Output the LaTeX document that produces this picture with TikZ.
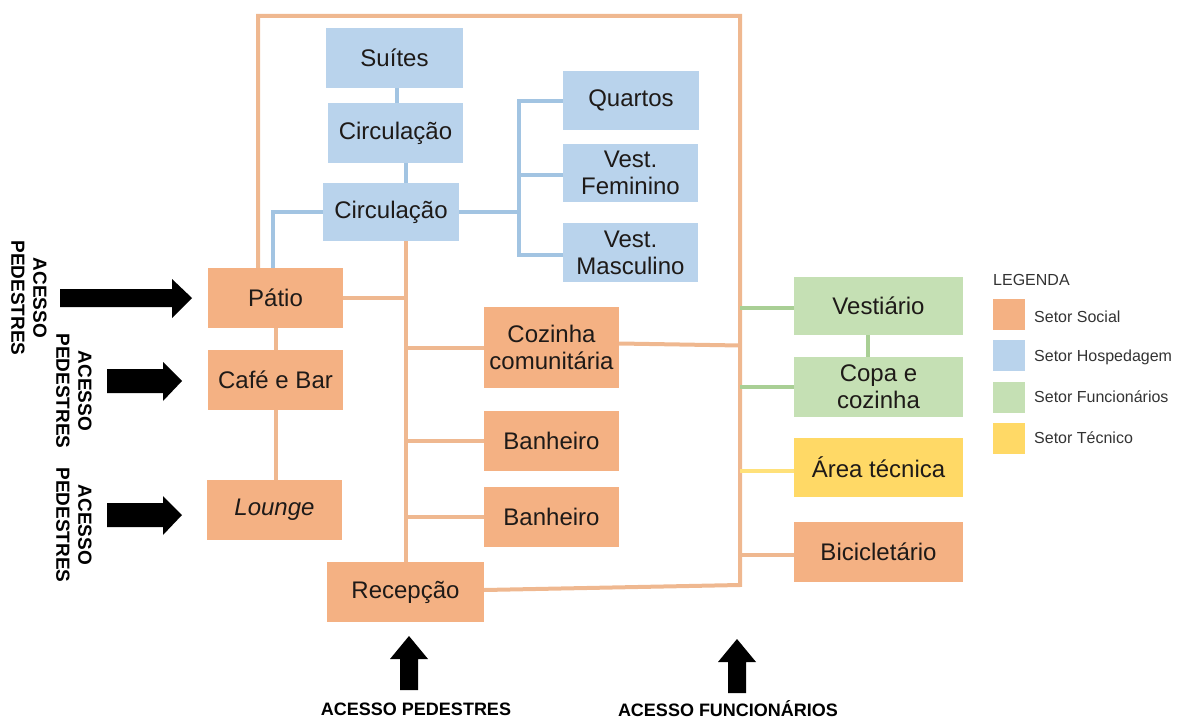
\documentclass[tikz,border=0pt]{standalone}
\usepackage{fontspec}
\setmainfont{Liberation Sans}
\definecolor{social}{HTML}{F4B183}
\definecolor{hosp}{HTML}{B9D3EC}
\definecolor{func}{HTML}{C5E0B4}
\definecolor{tecn}{HTML}{FFD966}
\definecolor{lsocial}{HTML}{EFB890}
\definecolor{lhosp}{HTML}{A2C4E2}
\definecolor{lfunc}{HTML}{A9CF95}
\definecolor{ltecn}{HTML}{FFE17A}
\definecolor{txt}{HTML}{1E1A18}
\definecolor{legtxt}{HTML}{333333}
\begin{document}
\begin{tikzpicture}[x=1pt,y=-1pt,
  box/.style={rectangle, inner sep=0pt, align=center, text=txt, font=\fontsize{24}{27}\selectfont},
  soc/.style={box, fill=social},
  hos/.style={box, fill=hosp},
  fun/.style={box, fill=func},
  tec/.style={box, fill=tecn},
  oline/.style={draw=lsocial, line width=4pt},
  bline/.style={draw=lhosp, line width=4pt},
  gline/.style={draw=lfunc, line width=4pt},
  yline/.style={draw=ltecn, line width=4pt},
  acc/.style={font=\bfseries\fontsize{18}{22}\selectfont, align=center, inner sep=0pt},
  accr/.style={acc, font=\bfseries\fontsize{19}{22}\selectfont, rotate=-90},
  leg/.style={font=\fontsize{16}{19}\selectfont, anchor=west, text=legtxt, inner sep=0pt},
  swatch/.style={rectangle, minimum width=32pt, minimum height=31pt, inner sep=0pt},
  bigarrow/.style={fill=black}
]
\useasboundingbox (0,0) rectangle (1177,719);

% ---------- boxes ----------
\node[hos, minimum width=137pt, minimum height=60pt] (suites) at (394.5,58) {Suítes};
\node[hos, minimum width=135pt, minimum height=60pt] (circA) at (395.5,133) {Circulação};
\node[hos, minimum width=136pt, minimum height=58pt] (circB) at (391,212) {Circulação};
\node[hos, minimum width=136pt, minimum height=59pt] (quartos) at (631,100.5) {Quartos};
\node[hos, minimum width=135pt, minimum height=58pt] (vestf) at (630.5,173) {Vest.\\Feminino};
\node[hos, minimum width=135pt, minimum height=59pt] (vestm) at (630.5,252.5) {Vest.\\Masculino};

\node[soc, minimum width=135pt, minimum height=60pt] (patio) at (275.5,298) {Pátio};
\node[soc, minimum width=135pt, minimum height=60pt] (cafe) at (275.5,380) {Café e Bar};
\node[soc, minimum width=135pt, minimum height=60pt] (lounge) at (274.5,510) {\textit{Lounge}};
\node[soc, minimum width=135pt, minimum height=81pt] (cozinha) at (551.5,347.5) {Cozinha\\comunitária};
\node[soc, minimum width=135pt, minimum height=60pt] (banh1) at (551.5,441) {Banheiro};
\node[soc, minimum width=135pt, minimum height=60pt] (banh2) at (551.5,517) {Banheiro};
\node[soc, minimum width=157pt, minimum height=60pt] (recep) at (405.5,592) {Recepção};

\node[fun, minimum width=169pt, minimum height=58pt] (vestiario) at (878.5,306) {Vestiário};
\node[fun, minimum width=169pt, minimum height=60pt] (copa) at (878.5,387) {Copa e\\cozinha};
\node[tec, minimum width=169pt, minimum height=59pt] (area) at (878.5,467.5) {Área técnica};
\node[soc, minimum width=169pt, minimum height=60pt] (bici) at (878.5,552) {Bicicletário};

% ---------- orange (social) connectors ----------
\coordinate (TL) at (258,16);
\coordinate (TR) at (740,16);
\coordinate (BR) at (740,585);
\draw[oline] (patio.north -| TL) -- (TL) -- (TR) -- (BR) -- ([yshift=2pt]recep.east);
\draw[oline] (circB.south -| recep.north) -- (recep.north);
\draw[oline] (patio.east) -- (patio.east -| recep.north);
\draw[oline] (cozinha.west) -- (cozinha.west -| recep.north);
\draw[oline] (banh1.west) -- (banh1.west -| recep.north);
\draw[oline] (banh2.west) -- (banh2.west -| recep.north);
\draw[oline] ([yshift=4pt]cozinha.east) -- ([yshift=2pt]cozinha.east -| BR);
\draw[oline] ([yshift=-3pt]bici.west) -- ([yshift=-3pt]bici.west -| BR);
\draw[oline] (patio.south) -- (cafe.north);
\draw[oline] (cafe.south) -- (cafe.south |- lounge.north);

% ---------- blue (hospedagem) connectors ----------
\draw[bline] ([xshift=2pt]suites.south) -- ([xshift=2pt]suites.south |- circA.north);
\draw[bline] ([xshift=10pt]circA.south) -- ([xshift=10pt]circA.south |- circB.north);
\draw[bline] (circB.west) -| ([xshift=-2.5pt]patio.north);
\draw[bline] (circB.east) -- ++(60,0) coordinate (bj);
\draw[bline] ([yshift=-1pt]quartos.west) -| (bj);
\draw[bline] ([yshift=-3pt]vestm.west) -| (bj);
\draw[bline] ([yshift=-2pt]vestf.west) -- ([yshift=-2pt]vestf.west -| bj);

% ---------- green / yellow connectors ----------
\draw[gline] ([yshift=-2pt]vestiario.west) -- ([yshift=-2pt]vestiario.west -| BR);
\draw[gline] (copa.west) -- (copa.west -| BR);
\draw[gline] ([xshift=-11pt]vestiario.south) -- ([xshift=-11pt]copa.north);
\draw[yline] ([yshift=-3pt]area.west) -- ([yshift=-3pt]area.west -| BR);

% ---------- access arrows ----------
\fill[bigarrow] (60,289) -- (172,289) -- (172,279) -- (192,298) -- (172,318) -- (172,307) -- (60,307) -- cycle;
\fill[bigarrow] (107,369) -- (163,369) -- (163,362) -- (182,381) -- (163,401) -- (163,393) -- (107,393) -- cycle;
\fill[bigarrow] (107,503) -- (163,503) -- (163,496) -- (182,515) -- (163,535) -- (163,527) -- (107,527) -- cycle;
\fill[bigarrow] (400,690) -- (400,659) -- (390,659) -- (409,636) -- (428,659) -- (418,659) -- (418,690) -- cycle;
\fill[bigarrow] (728,693) -- (728,662) -- (718,662) -- (737,639) -- (756,662) -- (746,662) -- (746,693) -- cycle;

\node[accr] (acc1) at (29,298) {ACESSO\\PEDESTRES};
\node[accr] (acc2) at (74,391) {ACESSO\\PEDESTRES};
\node[accr] (acc3) at (74,525) {ACESSO\\PEDESTRES};
\node[acc] (acc4) at (416,709) {ACESSO PEDESTRES};
\node[acc] (acc5) at (728,709) {ACESSO FUNCIONÁRIOS};

% ---------- legend ----------
\node[leg] (legt) at (993,280) {LEGENDA};
\node[swatch, fill=social] (s1) at (1009,314) {};
\node[swatch, fill=hosp] (s2) at (1009,355.5) {};
\node[swatch, fill=func] (s3) at (1009,397) {};
\node[swatch, fill=tecn] (s4) at (1009,438.5) {};
\node[leg] (l1) at (1034,317) {Setor Social};
\node[leg] (l2) at (1034,357) {Setor Hospedagem};
\node[leg] (l3) at (1034,397) {Setor Funcionários};
\node[leg] (l4) at (1034,438) {Setor Técnico};
\end{tikzpicture}
\end{document}
